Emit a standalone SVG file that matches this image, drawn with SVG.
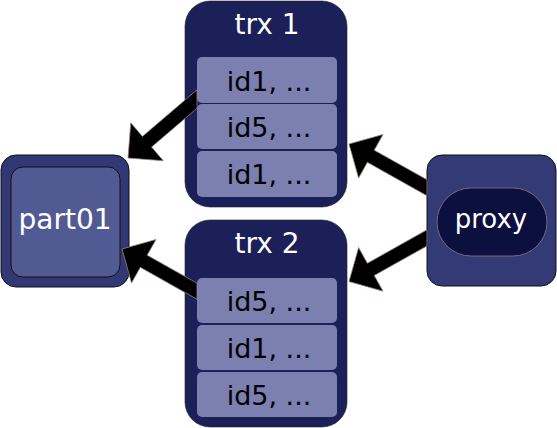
<svg xmlns="http://www.w3.org/2000/svg" width="557" height="428" viewBox="0 0 557 428">
<style>
  .box { stroke: #111; stroke-width: 1; }
  .trx { fill: #1b2059; stroke: #222; stroke-width: 0.6; }
  .row { fill: #7b80b0; }
  .title { font-family: "DejaVu Sans", sans-serif; font-size: 28px; fill: #ffffff; text-anchor: middle; }
  .rowtxt { font-family: "DejaVu Sans", sans-serif; font-size: 27px; fill: #000000; text-anchor: middle; }
  .arrow { fill: #000000; stroke: #9a8080; stroke-width: 0.8; stroke-linejoin: miter; }
</style>
<rect width="557" height="428" fill="#ffffff"/>
<g id="part01">
  <rect class="box" x="1" y="155" width="128" height="132" rx="15" fill="#323873"/>
  <rect class="box" x="11" y="167" width="109" height="110" rx="12" fill="#525a93"/>
  <text class="title" x="65" y="229" fill="#f2f2f2">part01</text>
</g>
<g id="trx1">
  <rect class="trx" x="185" y="1" width="162" height="206" rx="25"/>
  <text class="title" x="267" y="34">trx 1</text>
  <rect class="row" x="197" y="57" width="140" height="46" rx="5"/>
  <rect class="row" x="197" y="104" width="140" height="45" rx="5"/>
  <rect class="row" x="197" y="151" width="140" height="46" rx="5"/>
  <text class="rowtxt" x="269" y="91">id1, ...</text>
  <text class="rowtxt" x="269" y="137">id5, ...</text>
  <text class="rowtxt" x="269" y="184">id1, ...</text>
</g>
<g id="trx2">
  <rect class="trx" x="185" y="220" width="162" height="207" rx="25"/>
  <text class="title" x="267" y="253">trx 2</text>
  <rect class="row" x="197" y="278" width="140" height="45" rx="5"/>
  <rect class="row" x="197" y="325" width="140" height="45" rx="5"/>
  <rect class="row" x="197" y="372" width="140" height="45" rx="5"/>
  <text class="rowtxt" x="269" y="311">id5, ...</text>
  <text class="rowtxt" x="269" y="358">id1, ...</text>
  <text class="rowtxt" x="269" y="405">id5, ...</text>
</g>
<g id="proxy">
  <rect class="box" x="427" y="155" width="129" height="131" rx="15" fill="#343a75"/>
  <rect x="437" y="188" width="110" height="68" rx="34" fill="#0b103f" stroke="#8a7a7a" stroke-width="0.8"/>
  <text class="title" x="491" y="228" style="font-size:26px">proxy</text>
</g>
<g id="connectors">
  <polygon class="arrow" points="197,108.2 151.55,147.07 163.25,160.75 128,158 130.75,122.75 142.45,136.43 197,89.8"/>
  <polygon class="arrow" points="197,299.3 140.32,267.34 131.5,283 122,249 156,239.5 147.18,255.16 197,283.2"/>
  <polygon class="arrow" points="427,179.7 374.22,150.13 383.03,134.43 349,144 358.58,178.03 367.38,162.33 427,195.8"/>
  <polygon class="arrow" points="427,245.9 374.22,275.47 383.03,291.17 349,281.6 358.58,247.57 367.38,263.27 427,229.8"/>
</g>
</svg>
